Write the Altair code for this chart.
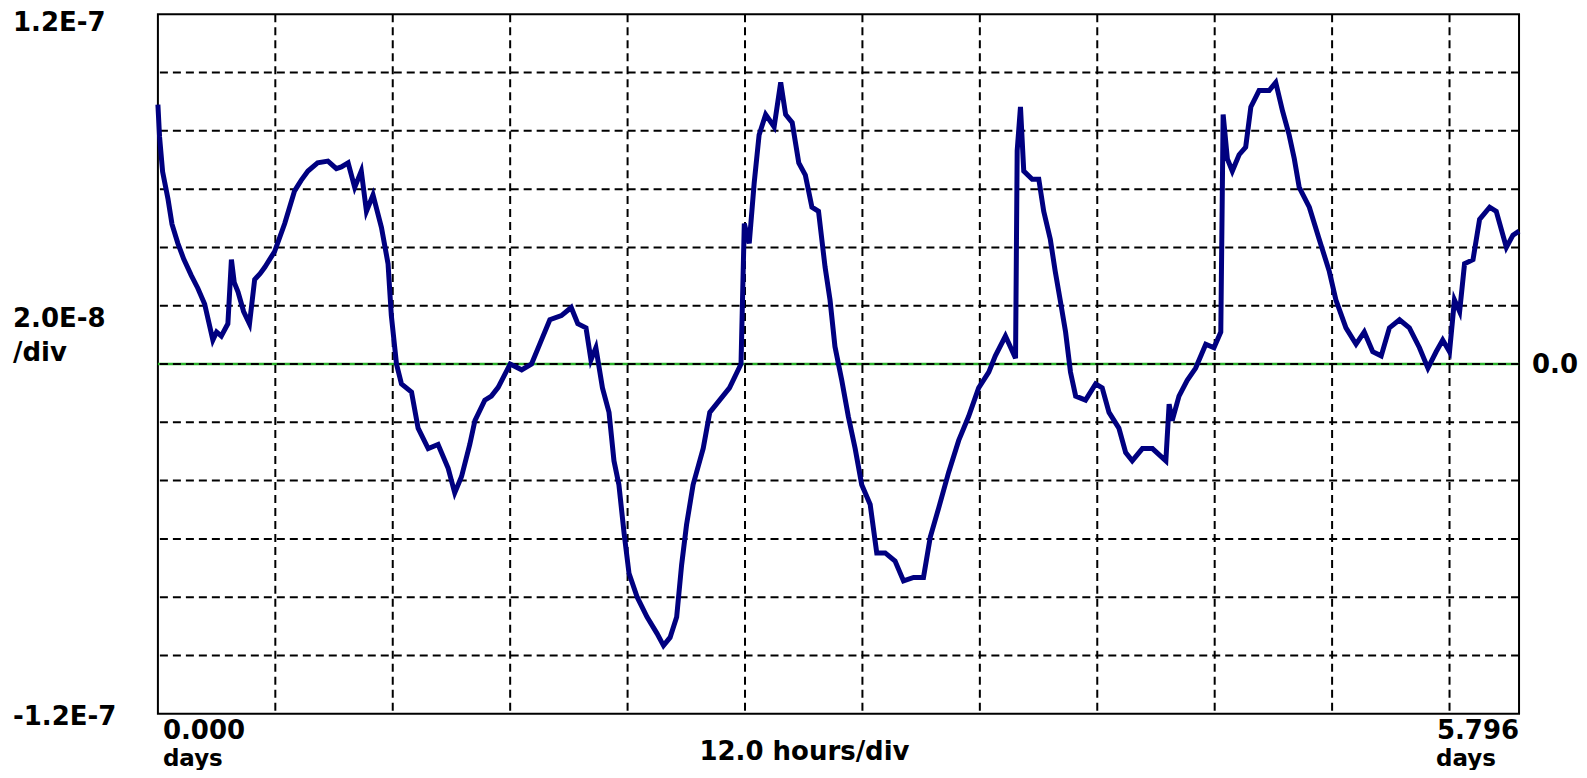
import altair as alt
import pandas as pd

days = [0.000, 0.007, 0.020, 0.043, 0.060, 0.085, 0.110, 0.142, 0.170, 0.199,
        0.234, 0.250, 0.270, 0.298, 0.313, 0.325, 0.341, 0.365, 0.390, 0.412,
        0.435, 0.455, 0.497, 0.540, 0.582, 0.610, 0.639, 0.680, 0.724, 0.760,
        0.781, 0.810, 0.838, 0.866, 0.888, 0.916, 0.952, 0.980, 0.994, 1.016,
        1.037, 1.080, 1.108, 1.151, 1.193, 1.236, 1.264, 1.293, 1.328, 1.350,
        1.392, 1.420, 1.449, 1.500, 1.549, 1.591, 1.633, 1.669, 1.718, 1.760,
        1.788, 1.823, 1.844, 1.865, 1.893, 1.921, 1.942, 1.963, 1.985, 2.006,
        2.041, 2.083, 2.125, 2.153, 2.181, 2.209, 2.230, 2.251, 2.279, 2.322,
        2.350, 2.392, 2.434, 2.483, 2.497, 2.518, 2.539, 2.560, 2.588, 2.624,
        2.652, 2.673, 2.701, 2.729, 2.757, 2.785, 2.813, 2.841, 2.862, 2.883,
        2.912, 2.940, 2.969, 2.997, 3.033, 3.061, 3.097, 3.139, 3.175, 3.218,
        3.260, 3.289, 3.324, 3.367, 3.410, 3.452, 3.495, 3.538, 3.566, 3.609,
        3.652, 3.659, 3.673, 3.687, 3.723, 3.751, 3.772, 3.800, 3.821, 3.842,
        3.865, 3.886, 3.908, 3.950, 3.993, 4.021, 4.050, 4.092, 4.121, 4.149,
        4.192, 4.235, 4.292, 4.306, 4.319, 4.348, 4.383, 4.419, 4.462, 4.497,
        4.526, 4.536, 4.554, 4.575, 4.604, 4.632, 4.654, 4.689, 4.732, 4.760,
        4.789, 4.817, 4.839, 4.860, 4.903, 4.945, 4.988, 5.016, 5.059, 5.102,
        5.137, 5.173, 5.209, 5.244, 5.287, 5.329, 5.372, 5.408, 5.443, 5.471,
        5.500, 5.521, 5.543, 5.564, 5.600, 5.628, 5.671, 5.699, 5.742, 5.770,
        5.796]
divs = [4.45, 3.90, 3.30, 2.83, 2.40, 2.07, 1.80, 1.52, 1.30, 1.03,
        0.41, 0.55, 0.48, 0.69, 1.79, 1.40, 1.24, 0.90, 0.69, 1.45,
        1.55, 1.66, 1.93, 2.41, 2.97, 3.15, 3.31, 3.45, 3.48, 3.35,
        3.38, 3.45, 3.03, 3.31, 2.62, 2.90, 2.34, 1.72, 0.83, 0.00,
        -0.34, -0.48, -1.10, -1.45, -1.38, -1.79, -2.21, -1.93, -1.38, -0.97,
        -0.62, -0.55, -0.40, 0.00, -0.10, 0.00, 0.41, 0.76, 0.83, 0.97,
        0.69, 0.62, 0.07, 0.28, -0.41, -0.83, -1.66, -2.07, -2.90, -3.59,
        -4.00, -4.34, -4.62, -4.83, -4.69, -4.34, -3.45, -2.76, -2.07, -1.45,
        -0.83, -0.62, -0.41, 0.00, 2.41, 2.07, 3.10, 3.93, 4.28, 4.07,
        4.83, 4.28, 4.14, 3.45, 3.24, 2.69, 2.62, 1.66, 1.10, 0.30,
        -0.28, -0.90, -1.45, -2.07, -2.41, -3.24, -3.24, -3.38, -3.72, -3.66,
        -3.66, -2.97, -2.48, -1.86, -1.31, -0.90, -0.41, -0.14, 0.14, 0.48,
        0.10, 3.66, 4.41, 3.31, 3.17, 3.17, 2.62, 2.14, 1.59, 1.10,
        0.55, -0.14, -0.55, -0.62, -0.34, -0.41, -0.83, -1.10, -1.52, -1.66,
        -1.45, -1.45, -1.66, -0.69, -0.97, -0.55, -0.28, -0.07, 0.34, 0.28,
        0.55, 4.28, 3.52, 3.31, 3.59, 3.72, 4.41, 4.69, 4.69, 4.83,
        4.34, 3.93, 3.52, 3.03, 2.69, 2.14, 1.59, 1.10, 0.62, 0.34,
        0.55, 0.21, 0.14, 0.62, 0.76, 0.62, 0.28, -0.07, 0.21, 0.41,
        0.21, 1.10, 0.90, 1.72, 1.79, 2.48, 2.69, 2.62, 2.00, 2.21,
        2.28]
per_div = 2.0e-8

grid_days = [0.5, 1.0, 1.5, 2.0, 2.5, 3.0, 3.5, 4.0, 4.5, 5.0, 5.5]
grid_vals = [-1.0e-7, -8.0e-8, -6.0e-8, -4.0e-8, -2.0e-8, 0.0,
             2.0e-8, 4.0e-8, 6.0e-8, 8.0e-8, 1.0e-7]

W, H = 1362, 700
FONT = "DejaVu Sans"
FS = 26

df = pd.DataFrame({"day": days, "signal": [d * per_div for d in divs]})
xs = alt.Scale(domain=[0, 5.796], nice=False, zero=False)
ys = alt.Scale(domain=[-1.2e-7, 1.2e-7], nice=False, zero=False)

vgrid = alt.Chart(pd.DataFrame({"day": grid_days})).mark_rule(
    color="black", strokeWidth=2, strokeDash=[8, 5]
).encode(x=alt.X("day:Q", scale=xs, axis=None))

zero = alt.Chart(pd.DataFrame({"v": [0.0]})).mark_rule(
    color="#2cb52c", strokeWidth=2.5
).encode(y=alt.Y("v:Q", scale=ys, axis=None))

hgrid = alt.Chart(pd.DataFrame({"v": grid_vals})).mark_rule(
    color="black", strokeWidth=2, strokeDash=[8, 5]
).encode(y=alt.Y("v:Q", scale=ys, axis=None))

line = alt.Chart(df).mark_line(
    color="#000080", strokeWidth=5, strokeJoin="miter", interpolate="linear"
).encode(
    x=alt.X("day:Q", scale=xs, axis=None),
    y=alt.Y("signal:Q", scale=ys, axis=None),
)


def label(text, x, y, align="left", baseline="middle", size=FS):
    return alt.Chart(pd.DataFrame({"t": [text]})).mark_text(
        font=FONT, fontSize=size, fontWeight="bold", color="black",
        align=align, baseline=baseline,
    ).encode(text="t:N", x=alt.value(x), y=alt.value(y))


texts = [
    label("1.2E-7", -145, 9),
    label("2.0E-8", -145, 305),
    label("/div", -145, 339),
    label("-1.2E-7", -145, 703),
    label("0.000", 5, 725, baseline="alphabetic"),
    label("days", 5, 752, baseline="alphabetic", size=23),
    label("12.0 hours/div", 647, 746, align="center", baseline="alphabetic"),
    label("5.796", 1362, 725, align="right", baseline="alphabetic"),
    label("days", 1279, 752, baseline="alphabetic", size=23),
    label("0.0", 1375, 351),
]

chart = alt.layer(zero, vgrid, hgrid, line, *texts).properties(
    width=W, height=H,
    autosize=alt.AutoSizeParams(type="none"),
    padding={"left": 150, "top": 6, "right": 60, "bottom": 56},
    background="white",
).configure_view(stroke="black", strokeWidth=2)

chart.save("out.html", embed_options={"renderer": "svg", "actions": False})
